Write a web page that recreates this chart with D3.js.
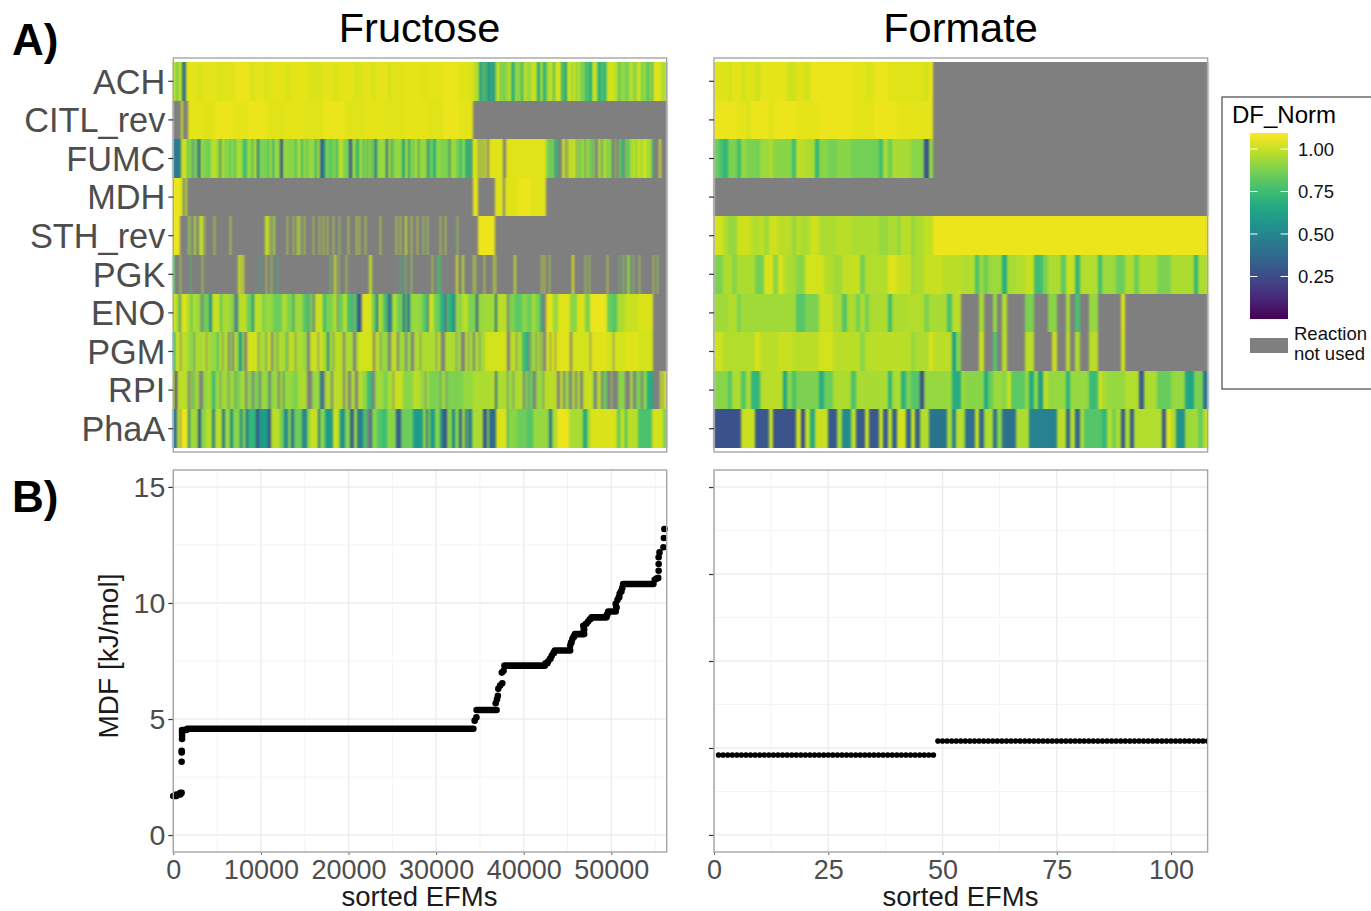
<!DOCTYPE html>
<html>
<head>
<meta charset="utf-8">
<script src="https://cdn.jsdelivr.net/npm/d3@7"></script>
<style>
  body { margin: 0; background: #fff; }
  text { font-family: "Liberation Sans", Arial, sans-serif; }
</style>
</head>
<body>
<svg id="chart" width="1371" height="911"></svg>
<script>
// rows of the heatmap, top to bottom
var reactions = ['ACH', 'CITL_rev', 'FUMC', 'MDH', 'STH_rev', 'PGK', 'ENO', 'PGM', 'RPI', 'PhaA'];

// each row: start, value, start, value ... value is DF_Norm x 100, 0 = reaction not used
// fructose starts are in blocks of 114 sorted EFMs
var fructoseBlock = 114;
var fructoseBlocks = 494;

var fructoseACH = [0,96, 4,72, 5,100, 9,40, 13,105, 24,103, 30,105, 45,102, 47,104, 62,106, 77,103, 82,105, 91,102, 93,104, 100,105, 112,103, 118,105, 135,103, 150,105, 160,103, 165,105, 180,103, 190,105, 198,103, 203,105, 215,102, 217,104, 230,105, 247,104, 255,105, 270,106, 285,104, 296,103, 300,100, 302,96, 306,75, 307,55, 309,85, 311,45, 312,80, 314,60, 316,45, 317,75, 319,50, 321,85, 322,65, 323,100, 327,75, 328,92, 331,70, 332,98, 334,80, 335,100, 338,72, 339,70, 342,98, 344,85, 346,95, 348,70, 350,98, 354,92, 358,100, 364,66, 367,96, 370,68, 373,92, 376,100, 380,66, 381,92, 383,103, 388,68, 390,95, 391,62, 394,102, 398,92, 400,100, 403,88, 405,103, 407,85, 410,92, 412,70, 414,84, 416,66, 419,100, 424,78, 426,62, 428,85, 430,66, 432,80, 434,102, 441,98, 445,80, 447,92, 452,86, 456,98, 460,90, 464,102, 468,84, 470,96, 472,86, 475,70, 476,92, 479,62, 480,104, 488,96];
var fructoseCITL = [0,0, 8,100, 10,0, 15,105, 30,104, 42,106, 60,105, 75,106, 95,104, 110,105, 130,104, 150,106, 172,104, 190,105, 210,104, 232,105, 255,104, 270,106, 285,105, 300,0];
var fructoseFUMC = [0,45, 8,101, 14,80, 16,96, 18,78, 20,0, 21,92, 23,70, 24,90, 25,28, 27,80, 28,95, 30,88, 32,86, 38,98, 44,90, 47,35, 48,96, 52,80, 53,92, 55,88, 57,75, 58,94, 60,85, 62,78, 63,96, 68,90, 70,75, 74,93, 79,60, 80,95, 84,40, 86,88, 94,82, 97,98, 99,70, 101,92, 107,30, 110,96, 112,90, 122,78, 124,96, 128,72, 130,96, 132,85, 135,92, 142,70, 144,96, 147,35, 151,72, 153,92, 155,82, 160,90, 163,72, 165,98, 170,88, 176,30, 179,92, 183,70, 186,94, 190,60, 191,92, 194,60, 195,93, 198,60, 199,94, 201,50, 204,92, 213,35, 215,96, 218,45, 219,88, 222,92, 229,65, 232,96, 235,60, 237,92, 240,70, 241,95, 245,45, 246,92, 254,40, 255,85, 256,60, 257,88, 260,68, 263,92, 267,88, 276,35, 277,90, 279,94, 283,85, 287,72, 289,92, 292,70, 295,60, 296,90, 297,50, 299,96, 300,103, 305,0, 306,98, 308,0, 309,100, 311,0, 312,102, 314,0, 316,104, 330,0, 333,104, 373,88, 377,75, 378,88, 381,0, 382,72, 385,0, 389,100, 392,0, 393,96, 394,0, 395,100, 399,90, 400,102, 403,0, 404,92, 407,70, 408,96, 411,84, 412,0, 413,94, 416,78, 417,90, 419,0, 420,88, 422,0, 425,96, 428,0, 429,88, 431,98, 434,72, 435,94, 438,78, 439,0, 442,95, 443,0, 446,92, 447,75, 450,0, 452,86, 455,68, 456,94, 460,100, 462,90, 464,100, 468,92, 470,102, 474,90, 476,100, 478,78, 480,0, 486,102, 488,0];
var fructoseMDH = [0,106, 8,100, 10,0, 12,98, 14,0, 300,105, 305,0, 322,104, 330,0, 332,104, 345,106, 358,104, 373,0];
var fructoseSTH = [0,106, 7,0, 15,94, 16,0, 17,92, 18,0, 21,96, 23,0, 26,96, 28,104, 30,0, 31,96, 32,0, 41,100, 42,0, 57,102, 58,0, 92,100, 96,0, 97,98, 98,0, 100,94, 102,0, 114,98, 115,0, 120,98, 121,0, 124,98, 126,0, 127,94, 128,0, 131,98, 132,0, 140,98, 141,0, 146,98, 147,0, 150,100, 151,0, 154,100, 155,0, 160,98, 161,0, 166,94, 167,0, 175,100, 176,0, 183,100, 184,0, 186,98, 187,0, 192,100, 193,0, 207,100, 208,0, 223,102, 224,0, 227,100, 228,0, 232,98, 234,0, 238,102, 239,0, 244,100, 245,0, 250,96, 251,0, 254,96, 255,0, 267,98, 268,0, 272,98, 273,0, 284,92, 285,0, 305,106, 322,0];
var fructosePGK = [0,80, 2,0, 7,98, 8,0, 17,78, 18,0, 29,96, 30,0, 65,100, 68,0, 69,102, 71,0, 86,70, 87,0, 93,96, 94,0, 98,94, 99,0, 104,72, 105,0, 157,85, 158,0, 161,102, 163,0, 165,92, 166,0, 173,96, 174,0, 196,98, 199,0, 227,72, 228,0, 232,85, 233,0, 238,92, 239,0, 259,98, 260,0, 264,78, 266,0, 267,78, 268,0, 283,102, 285,0, 289,98, 291,0, 300,98, 301,0, 302,96, 303,0, 311,100, 312,0, 320,96, 321,0, 322,102, 323,0, 341,98, 343,0, 368,96, 369,0, 371,102, 372,0, 376,96, 377,0, 399,105, 401,0, 412,96, 413,0, 416,94, 417,0, 434,100, 435,0, 446,80, 447,0, 450,92, 451,0, 454,90, 457,0, 460,88, 461,0, 466,96, 467,0, 480,98, 481,0, 484,92, 485,0];
var fructoseENO = [0,100, 5,80, 7,0, 8,103, 14,96, 18,72, 19,95, 25,90, 28,0, 30,85, 35,94, 36,55, 39,100, 47,80, 49,95, 57,90, 61,0, 63,50, 65,98, 74,85, 79,55, 81,98, 89,88, 92,92, 100,85, 109,96, 114,88, 120,45, 121,93, 130,80, 135,0, 136,85, 140,0, 142,100, 150,75, 153,88, 160,96, 164,0, 165,85, 170,98, 174,78, 179,0, 180,80, 184,30, 188,0, 189,103, 199,85, 203,40, 205,96, 210,78, 214,0, 215,45, 219,96, 224,85, 230,35, 232,85, 234,45, 237,92, 247,90, 250,80, 254,60, 255,0, 256,102, 260,92, 262,85, 267,70, 272,30, 273,0, 274,85, 275,70, 279,60, 282,0, 283,96, 285,90, 289,98, 295,88, 303,28, 305,92, 310,94, 322,38, 324,98, 334,0, 336,88, 342,82, 349,90, 354,85, 359,96, 362,88, 367,70, 369,0, 373,104, 380,92, 385,104, 397,90, 404,103, 412,88, 417,106, 434,85, 439,80, 444,96, 452,100, 465,103, 480,0];
var fructosePGM = [0,62, 2,100, 7,0, 8,98, 15,92, 18,90, 21,0, 22,96, 27,94, 30,98, 33,0, 34,96, 37,92, 44,78, 46,98, 49,0, 50,94, 52,97, 55,0, 57,92, 59,0, 61,96, 64,90, 66,58, 69,96, 71,0, 74,102, 84,98, 85,0, 86,96, 92,90, 93,0, 94,100, 98,0, 100,94, 104,0, 105,96, 112,88, 114,0, 115,98, 122,0, 123,96, 130,92, 134,0, 137,100, 144,96, 145,0, 146,102, 150,90, 151,96, 154,45, 156,94, 160,0, 161,98, 170,0, 172,96, 180,0, 183,94, 185,102, 200,0, 202,98, 207,0, 208,92, 215,0, 218,98, 224,0, 226,94, 232,0, 234,92, 238,0, 241,96, 247,0, 248,96, 263,0, 264,98, 267,92, 268,0, 272,96, 283,0, 284,94, 288,0, 292,98, 295,0, 296,94, 300,0, 302,96, 306,0, 307,94, 312,102, 334,0, 337,98, 343,0, 344,96, 349,75, 354,62, 355,0, 356,84, 357,0, 358,92, 363,0, 364,96, 367,0, 368,94, 370,0, 373,102, 377,0, 378,102, 382,0, 383,104, 397,0, 399,102, 417,0, 418,104, 434,102, 440,0, 441,102, 452,104, 465,102, 480,0];
var fructoseRPI = [0,96, 2,15, 4,98, 15,0, 17,92, 19,0, 20,90, 24,96, 26,0, 30,92, 35,96, 38,84, 40,70, 42,92, 47,0, 48,94, 55,0, 56,92, 62,0, 63,88, 68,96, 72,0, 74,90, 79,0, 81,88, 86,0, 88,92, 95,75, 96,0, 98,92, 105,0, 107,96, 110,40, 111,92, 120,88, 125,96, 134,0, 139,92, 147,40, 150,0, 152,96, 158,0, 160,98, 170,0, 172,96, 175,0, 178,96, 182,0, 185,98, 189,92, 194,75, 199,0, 202,94, 210,88, 215,96, 220,0, 221,100, 230,90, 240,98, 247,92, 252,0, 253,94, 256,88, 267,0, 268,92, 273,0, 274,88, 290,92, 300,96, 320,100, 322,40, 324,96, 334,0, 335,92, 340,0, 341,96, 350,0, 352,88, 355,0, 356,84, 360,0, 363,92, 370,0, 371,98, 384,0, 387,100, 390,0, 392,92, 396,0, 399,96, 402,0, 404,96, 407,0, 410,100, 420,84, 421,0, 424,98, 428,0, 430,84, 434,0, 438,94, 439,0, 445,90, 452,0, 457,94, 460,0, 463,88, 468,0, 470,90, 474,68, 480,0, 487,102, 489,0, 490,100];
var fructosePhaA = [0,40, 4,100, 7,0, 8,106, 15,50, 17,94, 25,30, 28,90, 33,98, 39,50, 42,98, 49,45, 52,94, 57,55, 60,90, 67,45, 69,85, 73,35, 75,72, 83,28, 86,60, 95,28, 98,98, 107,85, 111,50, 115,90, 118,40, 121,85, 129,50, 134,90, 137,100, 145,45, 147,90, 152,60, 160,102, 165,92, 167,55, 172,90, 177,35, 181,95, 184,45, 190,78, 194,0, 197,40, 199,90, 204,80, 209,75, 214,90, 223,32, 228,85, 240,60, 250,92, 253,40, 255,92, 257,60, 262,90, 267,55, 270,28, 274,90, 279,50, 282,90, 286,35, 289,95, 292,40, 294,92, 295,45, 299,95, 310,28, 314,90, 316,38, 323,103, 334,60, 335,90, 344,85, 354,80, 360,92, 376,42, 379,95, 384,106, 396,95, 410,65, 414,92, 417,103, 444,82, 447,98, 452,75, 454,98, 465,78, 479,102, 490,88];

// formate starts are sorted EFM columns, 108 in total
var formateColumns = 108;

var formateACH = [0,104, 3,102, 4,105, 6,102, 7,104, 9,101, 10,105, 16,101, 18,104, 20,102, 21,106, 30,105, 33,103, 35,106, 38,104, 46,102, 47,106, 48,0];
var formateCITL = [0,106, 5,105, 7,103, 8,106, 12,104, 13,106, 18,105, 21,105, 23,106, 30,105, 33,105, 35,106, 40,105, 48,0];
var formateFUMC = [0,85, 1,78, 2,72, 3,88, 5,76, 6,92, 7,88, 9,86, 10,93, 12,96, 13,90, 17,75, 18,98, 20,96, 22,72, 23,90, 25,86, 27,90, 30,86, 36,75, 37,95, 38,85, 39,95, 43,90, 46,27, 47,92, 48,0];
var formateMDH = [0,0];
var formateSTH = [0,102, 2,97, 3,92, 5,101, 8,97, 10,99, 11,94, 12,101, 14,98, 17,92, 18,98, 19,95, 20,96, 21,101, 23,96, 27,98, 30,96, 36,92, 38,96, 40,92, 41,98, 43,92, 44,96, 46,99, 48,106];
var formatePGK = [0,88, 2,96, 4,90, 5,96, 9,86, 11,103, 13,90, 14,103, 15,98, 16,95, 18,90, 20,102, 24,97, 26,94, 28,99, 30,100, 32,86, 33,97, 38,104, 40,100, 43,94, 44,96, 46,100, 50,98, 54,97, 57,78, 58,92, 59,85, 60,93, 63,68, 64,95, 66,97, 68,100, 70,76, 72,88, 73,96, 76,82, 77,100, 79,72, 80,97, 84,76, 85,93, 88,85, 90,96, 92,85, 93,96, 97,88, 100,96, 105,72, 106,96];
var formateENO = [0,94, 3,97, 5,88, 6,94, 18,80, 20,88, 23,100, 26,95, 28,80, 29,96, 31,86, 32,96, 33,86, 34,96, 38,76, 39,96, 42,97, 46,88, 47,95, 51,78, 52,98, 54,0, 58,95, 59,0, 61,92, 62,0, 63,97, 64,0, 68,88, 70,0, 73,90, 75,0, 77,95, 78,0, 79,78, 80,0, 82,92, 84,0, 89,103, 90,0];
var formatePGM = [0,101, 2,97, 9,103, 10,98, 14,100, 17,98, 23,102, 26,98, 32,90, 33,98, 43,92, 44,96, 47,103, 48,98, 52,62, 53,90, 54,0, 58,100, 59,0, 61,80, 62,0, 63,98, 64,0, 68,98, 70,0, 74,100, 75,0, 77,98, 78,0, 79,96, 80,0, 82,98, 84,0, 89,102, 90,0];
var formateRPI = [0,90, 3,80, 4,96, 6,80, 7,96, 8,72, 10,96, 11,98, 15,64, 16,90, 17,78, 18,88, 23,68, 24,85, 26,96, 30,78, 31,95, 38,72, 39,95, 41,70, 42,88, 43,80, 45,25, 46,92, 52,68, 54,93, 55,90, 59,66, 60,84, 61,93, 63,90, 64,100, 65,82, 68,92, 69,66, 70,92, 71,60, 72,98, 73,92, 77,70, 78,92, 82,74, 84,100, 85,95, 86,92, 90,97, 93,30, 94,96, 97,84, 100,92, 103,64, 105,88, 107,42];
var formatePhaA = [0,27, 6,100, 9,30, 12,100, 13,28, 18,100, 19,25, 20,98, 21,66, 22,100, 25,30, 27,95, 28,52, 30,98, 31,30, 33,100, 34,30, 36,100, 37,32, 38,100, 39,35, 40,102, 42,35, 43,100, 44,32, 45,97, 47,42, 51,95, 52,48, 53,98, 54,96, 55,40, 57,100, 58,35, 59,96, 61,40, 62,90, 63,40, 66,96, 69,48, 75,98, 77,35, 78,97, 79,35, 80,95, 81,80, 85,72, 86,97, 87,86, 88,96, 89,30, 90,96, 91,30, 92,97, 98,30, 99,104, 100,96, 101,55, 103,94, 106,84, 107,98];

var fructoseRows = [fructoseACH, fructoseCITL, fructoseFUMC, fructoseMDH, fructoseSTH, fructosePGK, fructoseENO, fructosePGM, fructoseRPI, fructosePhaA];
var formateRows = [formateACH, formateCITL, formateFUMC, formateMDH, formateSTH, formatePGK, formateENO, formatePGM, formateRPI, formatePhaA];

// MDF of the fructose EFMs, as plateaus: first EFM, last EFM, value
var fructoseFrom = [0, 350, 800, 950, 960, 960, 1000, 1000, 1000, 1000, 1600, 34400, 34600, 34620, 36800, 36950, 37050, 37100, 37300, 37550, 37500, 37700, 37800, 42800, 43200, 43550, 45300, 45550, 45850, 46800, 47350, 47750, 49650, 50500, 50700, 50950, 51250, 51350, 54950, 55350, 55400, 55400, 55400, 55500, 55950, 56000, 56050, 42500, 43000, 43400, 45400, 45700, 46850, 47100, 47550, 49500, 50550, 50850, 51100, 55150];
var fructoseTo = [350, 800, 950, 950, 960, 960, 1000, 1000, 1000, 1500, 34250, 34400, 34600, 36900, 36800, 36950, 37050, 37100, 37300, 37550, 37500, 37700, 42400, 42800, 43200, 45300, 45300, 45550, 46900, 46800, 47350, 49450, 50500, 50500, 50700, 50950, 51250, 54800, 54950, 55350, 55400, 55400, 55400, 55500, 55950, 56000, 56080, 42700, 43050, 43450, 45450, 45750, 46900, 47150, 47600, 49550, 50600, 50900, 51150, 55200];
var fructoseMDF = [1.68, 1.75, 1.82, 3.16, 3.56, 3.63, 4.14, 4.28, 4.42, 4.53, 4.58, 4.93, 5.07, 5.39, 5.68, 5.85, 6.0, 6.3, 6.44, 6.54, 7.0, 7.08, 7.3, 7.49, 7.73, 7.95, 8.16, 8.45, 8.66, 9.02, 9.2, 9.38, 9.63, 9.96, 10.13, 10.4, 10.65, 10.82, 11.0, 11.08, 11.39, 11.68, 11.97, 12.18, 12.4, 12.8, 13.19, 7.4, 7.6, 7.85, 8.3, 8.55, 8.85, 9.1, 9.3, 9.5, 9.8, 10.25, 10.5, 11.05];

// MDF of the formate EFMs, EFM 1 to 108
var formateMDF = [
    4.6,4.6,4.6,4.6,4.6,4.6,4.6,4.6,4.6,4.6,4.6,4.6,4.6,4.6,4.6,4.6,
    4.6,4.6,4.6,4.6,4.6,4.6,4.6,4.6,4.6,4.6,4.6,4.6,4.6,4.6,4.6,4.6,
    4.6,4.6,4.6,4.6,4.6,4.6,4.6,4.6,4.6,4.6,4.6,4.6,4.6,4.6,4.6,4.6,
    5.4,5.4,5.4,5.4,5.4,5.4,5.4,5.4,5.4,5.4,5.4,5.4,5.4,5.4,5.4,5.4,
    5.4,5.4,5.4,5.4,5.4,5.4,5.4,5.4,5.4,5.4,5.4,5.4,5.4,5.4,5.4,5.4,
    5.4,5.4,5.4,5.4,5.4,5.4,5.4,5.4,5.4,5.4,5.4,5.4,5.4,5.4,5.4,5.4,
    5.4,5.4,5.4,5.4,5.4,5.4,5.4,5.4,5.4,5.4,5.4,5.4
];

var fructoseXTicks = [0, 10000, 20000, 30000, 40000, 50000];
var fructoseXMinor = [5000, 15000, 25000, 35000, 45000, 55000];
var formateXTicks = [0, 25, 50, 75, 100];
var formateXMinor = [12.5, 37.5, 62.5, 87.5];
var fructoseYTicks = [0, 5, 10, 15];
var fructoseYMinor = [2.5, 7.5, 12.5];
var formateYTicks = [0, 5, 10, 15, 20];
var formateYMinor = [2.5, 7.5, 12.5, 17.5];
var legendTicks = [0.25, 0.5, 0.75, 1];

var svg = d3.select('#chart');
var notUsed = '#7f7f7f';
var axisText = '#4d4d4d';

var legendMax = 1.094;
var colorScale = d3.scaleSequential(d3.interpolateViridis).domain([0, legendMax]);

var defs = svg.append('defs');
defs.append('filter').attr('id', 'soft')
    .attr('x', '-1%').attr('width', '102%')
    .attr('color-interpolation-filters', 'sRGB')
    .append('feGaussianBlur').attr('stdDeviation', '1.1 0.3');

// shared x scales of the two columns
var fructoseX = d3.scaleLinear().domain([0, 56320]).range([173.3, 666.7]);
var formateX = d3.scaleLinear().domain([0, formateColumns]).range([714, 1207.6]);

var rowScale = d3.scaleBand().domain(reactions).range([62, 448]);
var fructoseY = d3.scaleLinear().domain([-0.73, 15.73]).range([852, 470]);
var formateY = d3.scaleLinear().domain([-0.98, 20.98]).range([852, 470]);

function drawHeatmap(rows, x, startToX, last, showLabels) {
    var x0 = x.range()[0], x1 = x.range()[1];
    var top = 58, bottom = 452;

    // whole pixels, so no white seams show between neighbouring cells
    var cellLeft = function(d) { return Math.round(x(startToX(d.start))); };
    var cellRight = function(d) { return Math.round(x(startToX(d.end))); };

    var heat = svg.append('g').attr('filter', 'url(#soft)');
    rows.forEach(function(row, ri) {
        var cells = [];
        for (var i = 0; i < row.length; i += 2) {
            cells.push({
                start : row[i],
                end : i + 2 < row.length ? row[i + 2] : last,
                value : row[i + 1]
            });
        }
        var yTop = Math.round(rowScale(reactions[ri]));
        var yBottom = Math.round(rowScale(reactions[ri]) + rowScale.bandwidth());
        heat.selectAll(null)
            .data(cells)
            .enter()
                .append('rect')
                .attr('x', cellLeft)
                .attr('width', function(d) { return cellRight(d) - cellLeft(d); })
                .attr('y', yTop)
                .attr('height', yBottom - yTop)
                .attr('fill', function(d) {
                    return d.value === 0 ? notUsed : colorScale(d.value / 100);
                });
    });

    svg.append('rect')
        .attr('x', x0).attr('y', top)
        .attr('width', x1 - x0).attr('height', bottom - top)
        .attr('fill', 'none')
        .attr('stroke', '#a6a6a6').attr('stroke-width', 1.4);

    var axis = d3.axisLeft(rowScale).tickSize(5).tickPadding(3);
    if (!showLabels) {
        axis.tickFormat('');
    }
    var g = svg.append('g')
        .attr('transform', 'translate(' + x0 + ',0)')
        .call(axis);
    g.select('.domain').remove();
    g.selectAll('line').attr('stroke', '#333').attr('stroke-width', 1.2);
    g.selectAll('text').attr('fill', axisText).attr('font-size', 34.3).attr('dy', '0.36em');
}

function drawMdfPanel(x, y, xTicks, xMinor, yTicks, yMinor, showLabels) {
    var x0 = x.range()[0], x1 = x.range()[1];
    var y0 = y.range()[1], y1 = y.range()[0];

    var grid = svg.append('g');
    grid.selectAll('.minorx').data(xMinor).enter().append('line')
        .attr('x1', x).attr('x2', x).attr('y1', y0).attr('y2', y1)
        .attr('stroke', '#f3f3f3').attr('stroke-width', 0.9);
    grid.selectAll('.minory').data(yMinor).enter().append('line')
        .attr('y1', y).attr('y2', y).attr('x1', x0).attr('x2', x1)
        .attr('stroke', '#f3f3f3').attr('stroke-width', 0.9);
    grid.selectAll('.majorx').data(xTicks).enter().append('line')
        .attr('x1', x).attr('x2', x).attr('y1', y0).attr('y2', y1)
        .attr('stroke', '#ececec').attr('stroke-width', 1.4);
    grid.selectAll('.majory').data(yTicks).enter().append('line')
        .attr('y1', y).attr('y2', y).attr('x1', x0).attr('x2', x1)
        .attr('stroke', '#ececec').attr('stroke-width', 1.4);

    var xg = svg.append('g')
        .attr('transform', 'translate(0,' + y1 + ')')
        .call(d3.axisBottom(x).tickValues(xTicks).tickSize(3).tickPadding(5).tickFormat(d3.format('d')));
    xg.select('.domain').remove();
    xg.selectAll('line').attr('stroke', '#666').attr('stroke-width', 1);
    xg.selectAll('text').attr('fill', axisText).attr('font-size', 27);

    var yAxis = d3.axisLeft(y).tickValues(yTicks).tickSize(5).tickPadding(3);
    if (!showLabels) {
        yAxis.tickFormat('');
    }
    var yg = svg.append('g')
        .attr('transform', 'translate(' + x0 + ',0)')
        .call(yAxis);
    yg.select('.domain').remove();
    yg.selectAll('line').attr('stroke', '#333').attr('stroke-width', 1.2);
    yg.selectAll('text').attr('fill', axisText).attr('font-size', 28.5);
}

function drawBorder(x, y) {
    svg.append('rect')
        .attr('x', x.range()[0]).attr('y', y.range()[1])
        .attr('width', x.range()[1] - x.range()[0])
        .attr('height', y.range()[0] - y.range()[1])
        .attr('fill', 'none')
        .attr('stroke', '#a6a6a6').attr('stroke-width', 1.4);
}

drawHeatmap(fructoseRows, fructoseX, function(d) { return d * fructoseBlock; }, fructoseBlocks, true);
drawHeatmap(formateRows, formateX, function(d) { return d; }, formateColumns, false);

drawMdfPanel(fructoseX, fructoseY, fructoseXTicks, fructoseXMinor, fructoseYTicks, fructoseYMinor, true);
drawMdfPanel(formateX, formateY, formateXTicks, formateXMinor, formateYTicks, formateYMinor, false);

// fructose MDF, plateaus of overlapping points
var fructosePoints = fructoseMDF.map(function(d, i) {
    return { from : fructoseFrom[i], to : fructoseTo[i], mdf : d };
});
svg.append('g').selectAll('line')
    .data(fructosePoints)
    .enter()
        .append('line')
        .attr('x1', function(d) { return fructoseX(d.from); })
        .attr('x2', function(d) { return fructoseX(d.to); })
        .attr('y1', function(d) { return fructoseY(d.mdf); })
        .attr('y2', function(d) { return fructoseY(d.mdf); })
        .attr('stroke', '#000')
        .attr('stroke-width', 6.6)
        .attr('stroke-linecap', 'round');

defs.append('clipPath').attr('id', 'formateClip')
    .append('rect').attr('x', 714).attr('y', 470).attr('width', 493.6).attr('height', 382);

svg.append('g').attr('clip-path', 'url(#formateClip)')
    .selectAll('circle')
    .data(formateMDF)
    .enter()
        .append('circle')
        .attr('cx', function(d, i) { return formateX(i + 1); })
        .attr('cy', function(d) { return formateY(d); })
        .attr('r', 2.8)
        .attr('fill', '#000');

drawBorder(fructoseX, fructoseY);
drawBorder(formateX, formateY);

// titles and panel letters
function label(x, y, text, size, opts) {
    opts = opts || {};
    var t = svg.append('text')
        .attr('x', x).attr('y', y)
        .attr('font-size', size)
        .attr('text-anchor', opts.anchor || 'start')
        .attr('fill', opts.fill || '#000')
        .attr('font-weight', opts.weight || 'normal')
        .text(text);
    if (opts.rotate) {
        t.attr('transform', 'rotate(' + opts.rotate + ',' + x + ',' + y + ')');
    }
    return t;
}

label(419.5, 42, 'Fructose', 41.5, { anchor : 'middle' });
label(960.5, 42, 'Formate', 41.5, { anchor : 'middle' });
label(12, 54.5, 'A)', 44, { weight : 'bold' });
label(12, 512, 'B)', 44, { weight : 'bold' });
label(419.5, 905.5, 'sorted EFMs', 27.5, { anchor : 'middle', fill : '#1a1a1a' });
label(960.5, 905.5, 'sorted EFMs', 27.5, { anchor : 'middle', fill : '#1a1a1a' });
label(118, 656, 'MDF [kJ/mol]', 28, { anchor : 'middle', fill : '#1a1a1a', rotate : -90 });

// legend
svg.append('rect')
    .attr('x', 1222).attr('y', 97)
    .attr('width', 160).attr('height', 292)
    .attr('fill', '#fff')
    .attr('stroke', '#222').attr('stroke-width', 1);

label(1232, 123, 'DF_Norm', 24);

var legendScale = d3.scaleLinear().domain([0, legendMax]).range([319, 133]);

var gradient = defs.append('linearGradient').attr('id', 'viridisBar')
    .attr('x1', 0).attr('x2', 0).attr('y1', 1).attr('y2', 0);
d3.range(0, 11).forEach(function(i) {
    gradient.append('stop')
        .attr('offset', i / 10)
        .attr('stop-color', d3.interpolateViridis(i / 10));
});

svg.append('rect')
    .attr('x', 1250).attr('y', 133)
    .attr('width', 38).attr('height', 186)
    .attr('fill', 'url(#viridisBar)');

var legendTickMarks = svg.append('g').selectAll('g')
    .data(legendTicks)
    .enter()
        .append('g');
legendTickMarks.append('line')
    .attr('x1', 1250).attr('x2', 1257.5)
    .attr('y1', legendScale).attr('y2', legendScale)
    .attr('stroke', '#fff').attr('stroke-width', 1);
legendTickMarks.append('line')
    .attr('x1', 1280.5).attr('x2', 1288)
    .attr('y1', legendScale).attr('y2', legendScale)
    .attr('stroke', '#fff').attr('stroke-width', 1);
legendTickMarks.append('text')
    .attr('x', 1298)
    .attr('y', function(d) { return legendScale(d) + 7; })
    .attr('font-size', 18.5)
    .attr('fill', '#111')
    .text(d3.format('.2f'));

svg.append('rect')
    .attr('x', 1250).attr('y', 338)
    .attr('width', 38).attr('height', 15)
    .attr('fill', notUsed);
label(1294, 340, 'Reaction', 18.5, { fill : '#111' });
label(1294, 360, 'not used', 18.5, { fill : '#111' });
</script>
</body>
</html>
